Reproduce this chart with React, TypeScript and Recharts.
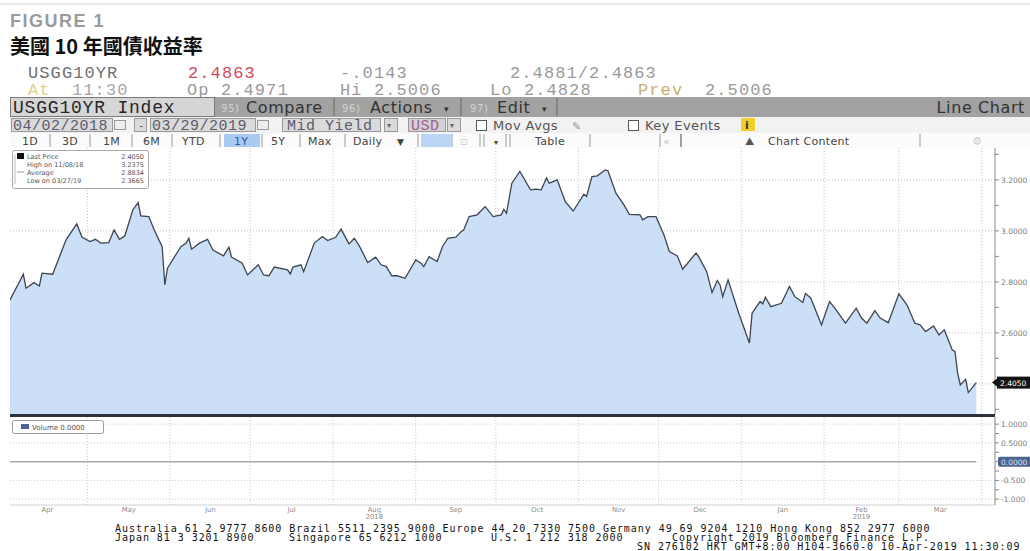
import React from 'react';
import { AreaChart, Area, LineChart, Line, XAxis, YAxis, CartesianGrid } from 'recharts';

// days counted from 2018-04-01
const DAYS = [
  1, 6, 7, 10, 12, 13, 17, 22, 26, 28, 31, 33, 35, 38, 40, 42, 44, 47, 49, 50,
  53, 55, 58, 59, 60, 65, 67, 68, 69, 72, 75, 77, 81, 83, 84, 88, 90, 94, 96, 98,
  100, 105, 106, 107, 110, 111, 115, 118, 120, 123, 125, 128, 130, 132, 135, 138, 140, 142, 144, 146,
  149, 153, 155, 156, 158, 161, 163, 165, 168, 170, 171, 173, 176, 179, 182, 185, 186, 187, 189, 192,
  196, 198, 200, 202, 203, 206, 209, 212, 216, 217, 219, 221, 224, 225, 228, 231, 233, 237, 238, 240,
  243, 246, 248, 251, 253, 258, 259, 262, 264, 266, 267, 268, 270, 274, 278, 279, 282, 283, 284, 286,
  290, 293, 295, 298, 299, 301, 305, 308, 310, 314, 318, 320, 322, 325, 327, 330, 334, 337, 340, 342,
  344, 347, 349, 351, 354, 355, 356, 357, 359, 360, 362, 363,
];

const YIELDS = [
  2.729, 2.83, 2.775, 2.797, 2.784, 2.834, 2.83, 2.965, 3.027, 2.975, 2.958, 2.967, 2.952, 2.954, 3.004, 2.967, 2.98, 3.082, 3.111, 3.059,
  3.056, 3.004, 2.938, 2.788, 2.854, 2.938, 2.952, 2.971, 2.928, 2.952, 2.967, 2.925, 2.902, 2.936, 2.897, 2.873, 2.827, 2.867, 2.827, 2.824,
  2.858, 2.847, 2.831, 2.858, 2.867, 2.84, 2.952, 2.978, 2.962, 2.975, 3.007, 2.949, 2.971, 2.938, 2.876, 2.897, 2.867, 2.86, 2.824, 2.824,
  2.814, 2.886, 2.873, 2.86, 2.899, 2.88, 2.938, 2.971, 2.975, 2.997, 3.004, 3.056, 3.063, 3.095, 3.056, 3.063, 3.085, 3.069, 3.187, 3.233,
  3.161, 3.164, 3.161, 3.207, 3.187, 3.2, 3.115, 3.078, 3.144, 3.135, 3.213, 3.216, 3.239, 3.236, 3.148, 3.102, 3.065, 3.063, 3.043, 3.056,
  3.056, 2.984, 2.919, 2.902, 2.85, 2.913, 2.899, 2.84, 2.758, 2.805, 2.788, 2.742, 2.808, 2.677, 2.56, 2.677, 2.723, 2.714, 2.74, 2.703,
  2.716, 2.782, 2.742, 2.719, 2.755, 2.736, 2.631, 2.723, 2.697, 2.638, 2.697, 2.658, 2.638, 2.687, 2.658, 2.64, 2.753, 2.71, 2.638, 2.631,
  2.605, 2.627, 2.592, 2.612, 2.533, 2.527, 2.442, 2.396, 2.418, 2.366, 2.392, 2.405,
];

const VOLUME = 0;
const LAST_PRICE = 2.405;

const MONTH_LABELS = ['Apr', 'May', 'Jun', 'Jul', 'Aug', 'Sep', 'Oct', 'Nov', 'Dec', 'Jan', 'Feb', 'Mar'];
const MONTH_MIDS = [15, 45.5, 76, 106.5, 137.5, 168, 198.5, 229, 259.5, 290.5, 320, 349.5];
const MONTH_STARTS = [30, 61, 91, 122, 153, 183, 214, 244, 275, 306, 334, 365];
const YEAR_LABELS: Record<string, string> = { Aug: '2018', Feb: '2019' };

const PRICE_MAJOR = [2.6, 2.8, 3.0, 3.2];
const PRICE_TICKS = [2.3, 2.405, 2.5, 2.6, 2.7, 2.8, 2.9, 3.0, 3.1, 3.2, 3.3];
const VOL_MAJOR = [-1, -0.5, 0, 0.5, 1];
const VOL_TICKS = [-1, -0.75, -0.5, -0.25, 0, 0.25, 0.5, 0.75, 1];

const data = DAYS.map((day, i) => ({ day, yield: YIELDS[i], volume: VOLUME }));

const MONO = '"Liberation Mono", "DejaVu Sans Mono", monospace';
const SANS = '"DejaVu Sans", Verdana, sans-serif';
const near = (a: number, b: number) => Math.abs(a - b) < 1e-6;

const PriceTick = (props: any) => {
  const { x, y, payload } = props;
  const v = payload.value;
  if (near(v, LAST_PRICE)) {
    return (
      <g>
        <path d={`M${x - 9},${y} l5,-4 v8 z`} fill="#111" />
        <rect x={x - 4} y={y - 6} width={34} height={12} fill="#151515" />
        <text x={x - 1} y={y + 3} fontSize={7.5} fill="#fff" fontFamily={SANS}>2.4050</text>
      </g>
    );
  }
  if (!PRICE_MAJOR.some((m) => near(m, v))) return <g />;
  return (
    <text x={x} y={y + 3} fontSize={7.5} fill="#7a7a7a" fontFamily={SANS} textAnchor="start">
      {v.toFixed(4)}
    </text>
  );
};

const VolTick = (props: any) => {
  const { x, y, payload } = props;
  const v = payload.value;
  if (!VOL_MAJOR.some((m) => near(m, v))) return <g />;
  const label = v < 0 ? v.toFixed(3) : v.toFixed(4);
  if (near(v, 0)) {
    return (
      <g>
        <rect x={x - 3} y={y - 5} width={33} height={10} rx={2} fill="#4b6490" />
        <text x={x} y={y + 3} fontSize={7.5} fill="#dde4f0" fontFamily={SANS}>{label}</text>
      </g>
    );
  }
  return (
    <text x={x} y={y + 3} fontSize={7.5} fill="#7a7a7a" fontFamily={SANS} textAnchor="start">
      {label}
    </text>
  );
};

const MonthTick = (props: any) => {
  const { x, y, payload } = props;
  const i = MONTH_MIDS.findIndex((m) => near(m, payload.value));
  const label = MONTH_LABELS[i] ?? '';
  const year = YEAR_LABELS[label];
  return (
    <g>
      <text x={x} y={y + 7} textAnchor="middle" fontSize={6.8} fill="#8a8a8a" fontFamily={SANS}>{label}</text>
      {year && (
        <text x={x} y={y + 14} textAnchor="middle" fontSize={6.8} fill="#8a8a8a" fontFamily={SANS}>{year}</text>
      )}
    </g>
  );
};

const Sep = ({ x, y1, y2, c = '#777' }: { x: number; y1: number; y2: number; c?: string }) => (
  <line x1={x} x2={x} y1={y1} y2={y2} stroke={c} strokeWidth={1} />
);

const Overlay = () => (
  <svg width={1030} height={551} style={{ position: 'absolute', left: 0, top: 0, pointerEvents: 'none' }}>
    <line x1={0} x2={1030} y1={4} y2={4} stroke="#d4d4d4" />
    <text x={10} y={27} fontFamily='"Liberation Sans", Arial, sans-serif' fontWeight="bold" fontSize={18} fill="#9b9b9b" letterSpacing={1.5}>
      FIGURE 1
    </text>
    <text x={10} y={54} fontFamily='"Noto Sans CJK TC", "Noto Sans CJK SC", sans-serif' fontWeight="bold" fontSize={20} fill="#111">
      美國 10 年國債收益率
    </text>

    {/* quote lines */}
    <g fontFamily={MONO} fontSize={17} letterSpacing={1.1}>
      <text x={28} y={78} fill="#707070">USGG10YR</text>
      <text x={188} y={78} fill="#d2485a">2.4863</text>
      <text x={340} y={78} fill="#9a9a9a">-.0143</text>
      <text x={510} y={78} fill="#9a9a9a">2.4881/2.4863</text>
      <text x={28} y={95} fill="#e8cf86">At</text>
      <text x={72} y={95} fill="#a8a8a8">11:30</text>
      <text x={187} y={95} fill="#9a9a9a">Op 2.4971</text>
      <text x={340} y={95} fill="#9a9a9a">Hi 2.5006</text>
      <text x={490} y={95} fill="#9a9a9a">Lo 2.4828</text>
      <text x={638} y={95} fill="#c7ae6e">Prev</text>
      <text x={705} y={95} fill="#9a9a9a">2.5006</text>
    </g>

    {/* toolbar 1 */}
    <rect x={10} y={97} width={1020} height={20} fill="#a2a2a2" />
    <rect x={10.5} y={97.5} width={204} height={19} fill="#d6d6d6" stroke="#7a7a7a" />
    <text x={13} y={113} fontFamily={MONO} fontSize={18} letterSpacing={0.8} fill="#262626">USGG10YR Index</text>
    <g fontFamily={SANS} fontSize={16} fill="#333" letterSpacing={0.6}>
      <text x={221} y={112} fontSize={10} fill="#d2d2d2">95)</text>
      <text x={246} y={113}>Compare</text>
      <text x={342} y={112} fontSize={10} fill="#d2d2d2">96)</text>
      <text x={370} y={113}>Actions</text>
      <text x={444} y={112} fontSize={9}>▾</text>
      <text x={470} y={112} fontSize={10} fill="#d2d2d2">97)</text>
      <text x={497} y={113}>Edit</text>
      <text x={542} y={112} fontSize={9}>▾</text>
      <text x={1025} y={113} textAnchor="end">Line Chart</text>
    </g>
    <Sep x={334} y1={98} y2={116} c="#666" />
    <Sep x={461} y1={98} y2={116} c="#666" />
    <Sep x={557} y1={98} y2={116} c="#666" />

    {/* toolbar 2 */}
    <rect x={10} y={117} width={1020} height={16} fill="#f2f2f2" />
    <g fill="#dadada" stroke="#9a9a9a">
      <rect x={11.5} y={118.5} width={101} height={13} />
      <rect x={114.5} y={120.5} width={11} height={9} fill="#eee" />
      <rect x={134.5} y={118.5} width={12} height={13} />
      <rect x={150.5} y={118.5} width={105} height={13} />
      <rect x={257.5} y={120.5} width={11} height={9} fill="#eee" />
      <rect x={282.5} y={118.5} width={98} height={13} />
      <rect x={384.5} y={118.5} width={13} height={13} />
      <rect x={408.5} y={118.5} width={37} height={13} fill="#d6cfd6" />
      <rect x={447.5} y={118.5} width={13} height={13} />
      <rect x={476.5} y={120.5} width={10} height={10} fill="#fff" stroke="#555" />
      <rect x={628.5} y={120.5} width={10} height={10} fill="#fff" stroke="#555" />
      <rect x={741} y={118} width={14} height={13} fill="#f2cf2a" stroke="none" />
    </g>
    <g fontFamily={MONO} fontSize={15} fill="#5a5a6e" letterSpacing={0.5}>
      <text x={13} y={130}>04/02/2018</text>
      <text x={138} y={129} fontSize={11}>-</text>
      <text x={152} y={130}>03/29/2019</text>
      <text x={287} y={130}>Mid Yield</text>
      <text x={411} y={130} fill="#9a5f8c">USD</text>
    </g>
    <g fontFamily={SANS} fontSize={8} fill="#666">
      <text x={387} y={128}>▾</text>
      <text x={450} y={128}>▾</text>
    </g>
    <g fontFamily={SANS} fontSize={13} fill="#555" letterSpacing={0.4}>
      <text x={493} y={130}>Mov Avgs</text>
      <text x={572} y={130} fontSize={11} fill="#999">✎</text>
      <text x={645} y={130}>Key Events</text>
      <text x={745} y={129} fontSize={11} fontWeight="bold" fill="#333">i</text>
    </g>

    {/* toolbar 3 */}
    <rect x={10} y={133} width={1020} height={15} fill="#fbfbfb" />
    <rect x={224} y={134} width={36} height={13} fill="#a9caf1" />
    <rect x={421} y={134} width={30} height={13} fill="#bcd5f4" />
    <g stroke="#999">
      {[50, 90, 132, 172, 220, 262, 300, 345, 418, 452, 480, 484, 506, 510, 590, 660, 681, 920].map((x) => (
        <Sep key={x} x={x} y1={134} y2={147} c={x === 681 ? '#444' : '#999'} />
      ))}
    </g>
    <g fontFamily={SANS} fontSize={11} fill="#444" letterSpacing={0.3}>
      <text x={22} y={145}>1D</text>
      <text x={62} y={145}>3D</text>
      <text x={103} y={145}>1M</text>
      <text x={143} y={145}>6M</text>
      <text x={182} y={145}>YTD</text>
      <text x={234} y={145} fill="#2a5aa0">1Y</text>
      <text x={271} y={145}>5Y</text>
      <text x={308} y={145}>Max</text>
      <text x={353} y={145}>Daily</text>
      <text x={397} y={145} fontSize={9}>▼</text>
      <text x={460} y={145} fill="#ccc" fontSize={9}>⊡</text>
      <text x={494} y={145} fontSize={8}>▾</text>
      <text x={535} y={145}>Table</text>
      <text x={663} y={145} fill="#bbb">«</text>
      <text x={745} y={145} fontSize={11} fill="#555">⛰</text>
      <text x={768} y={145}>Chart Content</text>
      <text x={972} y={145} fill="#ccc">⚙</text>
    </g>

    {/* price legend */}
    <rect x={12.5} y={150.5} width={136} height={38} rx={2} fill="#fff" stroke="#a8a8a8" />
    <g fontFamily={SANS} fontSize={6.5} fill="#555">
      <rect x={17} y={153} width={7} height={6} fill="#111" />
      <text x={27} y={159}>Last Price</text>
      <text x={144} y={159} textAnchor="end">2.4050</text>
      <text x={27} y={167}>High on 11/08/18</text>
      <text x={144} y={167} textAnchor="end">3.2375</text>
      <text x={27} y={175}>Average</text>
      <text x={144} y={175} textAnchor="end">2.8834</text>
      <text x={27} y={183}>Low on 03/27/19</text>
      <text x={144} y={183} textAnchor="end">2.3665</text>
      <line x1={17} x2={24} y1={172} y2={172} stroke="#999" />
      <line x1={15} x2={15} y1={155} y2={184} stroke="#bbb" />
    </g>

    {/* panel separator */}
    <rect x={10} y={414} width={985} height={3} fill="#2d323c" />

    {/* volume legend */}
    <rect x={12.5} y={420.5} width={91} height={13} rx={2} fill="#fff" stroke="#9a9a9a" />
    <rect x={21} y={424} width={8} height={5} fill="#4b6490" />
    <text x={32} y={430} fontFamily={SANS} fontSize={7} fill="#555">Volume 0.0000</text>

    {/* footer */}
    <g fontFamily='"DejaVu Sans Mono", monospace' fontSize={10} fill="#111" letterSpacing={0.95}>
      <text x={115} y={532}>Australia 61 2 9777 8600 Brazil 5511 2395 9000 Europe 44 20 7330 7500 Germany 49 69 9204 1210 Hong Kong 852 2977 6000</text>
      <text x={115} y={541}>Japan 81 3 3201 8900</text>
      <text x={289} y={541}>Singapore 65 6212 1000</text>
      <text x={491} y={541}>U.S. 1 212 318 2000</text>
      <text x={672} y={541}>Copyright 2019 Bloomberg Finance L.P.</text>
      <text x={637} y={550}>SN 276102 HKT  GMT+8:00 H104-3660-0 10-Apr-2019 11:30:09</text>
    </g>
  </svg>
);

export default function App() {
  return (
    <div style={{ position: 'absolute', left: 0, top: 0, width: 1030, height: 551, background: '#fff', overflow: 'hidden' }}>
      <div style={{ position: 'absolute', left: 0, top: 148 }}>
        <AreaChart width={1030} height={267} data={data} margin={{ top: 0, right: 0, bottom: 0, left: 10 }}>
          <CartesianGrid
            stroke="#c4c4c4"
            strokeDasharray="1 2"
            horizontalValues={[2.4, 2.6, 2.8, 3.0, 3.2]}
            verticalValues={MONTH_STARTS}
          />
          <XAxis type="number" dataKey="day" domain={[1, 370]} hide allowDataOverflow />
          <YAxis
            orientation="right"
            type="number"
            domain={[2.278, 3.325]}
            ticks={PRICE_TICKS}
            interval={0}
            width={35}
            tickSize={4}
            tickMargin={2}
            axisLine={{ stroke: '#8a8a8a' }}
            tickLine={{ stroke: '#8a8a8a' }}
            tick={<PriceTick />}
            allowDataOverflow
          />
          <Area
            type="linear"
            dataKey="yield"
            stroke="#3e4450"
            strokeWidth={1.3}
            fill="#c5ddf6"
            fillOpacity={0.9}
            isAnimationActive={false}
            dot={false}
            activeDot={false}
          />
        </AreaChart>
      </div>
      <div style={{ position: 'absolute', left: 0, top: 417 }}>
        <LineChart width={1030} height={108} data={data} margin={{ top: 0, right: 0, bottom: 0, left: 10 }}>
          <CartesianGrid
            stroke="#c8c8c8"
            strokeDasharray="1 2"
            horizontalValues={[1, 0.5, -0.5, -1]}
            verticalValues={MONTH_STARTS}
          />
          <XAxis
            type="number"
            dataKey="day"
            domain={[1, 370]}
            ticks={MONTH_MIDS}
            interval={0}
            height={20}
            tickLine={false}
            tickSize={0}
            tickMargin={0}
            axisLine={{ stroke: '#cfcfcf' }}
            tick={<MonthTick />}
            allowDataOverflow
          />
          <YAxis
            orientation="right"
            type="number"
            domain={[-1.155, 1.19]}
            ticks={VOL_TICKS}
            interval={0}
            width={35}
            tickSize={4}
            tickMargin={2}
            axisLine={{ stroke: '#8a8a8a' }}
            tickLine={{ stroke: '#8a8a8a' }}
            tick={<VolTick />}
            allowDataOverflow
          />
          <Line
            type="linear"
            dataKey="volume"
            stroke="#a9a9a9"
            strokeWidth={1.5}
            dot={false}
            activeDot={false}
            isAnimationActive={false}
          />
        </LineChart>
      </div>
      <Overlay />
    </div>
  );
}
